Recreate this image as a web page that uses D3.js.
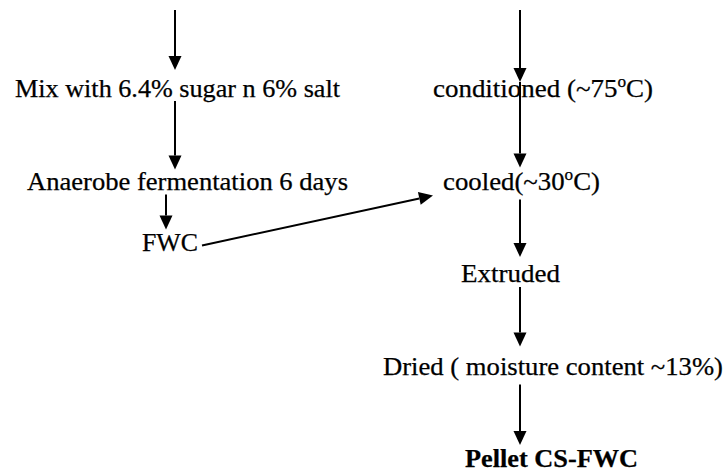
<!DOCTYPE html>
<html><head><meta charset="utf-8">
<script src="https://cdn.jsdelivr.net/npm/d3@7"></script>
<style>body{margin:0;background:#fff}svg{display:block}</style>
</head><body><svg id="c" width="725" height="472"></svg>
<script>
// ---- data: flow steps ----
const steps = [
  {t:"Mix with 6.4% sugar n 6% salt"},
  {t:"Anaerobe fermentation 6 days"},
  {t:"FWC"},
  {t:"conditioned (~75", sup:"o", after:"C)"},
  {t:"cooled(~30", sup:"o", after:"C)"},
  {t:"Extruded"},
  {t:"Dried ( moisture content ~13%)"},
  {t:"Pellet CS-FWC", bold:true}
];
const stepRow = [0, 1, 1.67, 0, 1, 2, 3, 4];
const links = [[null,0],[0,1],[1,2],[null,3],[3,4],[4,5],[5,6],[6,7],[2,4]];

// ---- layout (positions/sizes kept apart from data) ----
const textLeft  = [15, 27, 142, 433, 443, 461, 383, 465];
const textWidth = [325, 321, 56, 220, 157, 99, 340, 173];
const linkX   = [175, 175, 166, 520, 520, 520, 520, 520];
const linkY0  = [null, 4, 5, null, -15, 10, 5, 10];
const linkY1  = [-27, -20, -22, -15, -22, -25, -28, -22];
const topY = 10;

const svg = d3.select("#c");
const y = d3.scaleLinear().domain([0,4]).range([97, 467]);
const font = "'Liberation Serif','Times New Roman',Times,serif";

// text
const tx = svg.selectAll("text.step").data(steps).join("text")
  .attr("class","step")
  .attr("x",(d,i)=>textLeft[i])
  .attr("y",(d,i)=>y(stepRow[i]))
  .attr("font-family",font)
  .attr("font-size",25)
  .attr("font-weight",d=>d.bold?"bold":"normal")
  .attr("fill","#000")
  .attr("stroke","#000")
  .attr("stroke-width",0.25)
  .attr("textLength",(d,i)=>textWidth[i])
  .attr("lengthAdjust","spacingAndGlyphs");
tx.append("tspan").text(d=>d.t);
tx.filter(d=>d.sup).append("tspan").attr("font-size",16).attr("dy",-10).text(d=>d.sup);
tx.filter(d=>d.sup).append("tspan").attr("dy",10).text(d=>d.after);

// arrows
function arrow(x0,y0,x1,y1){
  const ang = Math.atan2(y1-y0,x1-x0);
  const L = 14, W = 6.5;
  const bx = x1 - L*Math.cos(ang), by = y1 - L*Math.sin(ang);
  svg.append("line").attr("x1",x0).attr("y1",y0).attr("x2",bx).attr("y2",by)
    .attr("stroke","#000").attr("stroke-width",2);
  const px = -Math.sin(ang)*W, py = Math.cos(ang)*W;
  svg.append("path").attr("d",`M${x1},${y1}L${bx+px},${by+py}L${bx-px},${by-py}Z`).attr("fill","#000");
}
links.forEach(([s,t],i)=>{
  if (i < 8) {
    const y0v = s===null ? topY : y(stepRow[s]) + linkY0[i];
    const y1v = y(stepRow[t]) + linkY1[i];
    arrow(linkX[i], y0v, linkX[i], y1v);
  } else {
    arrow(textLeft[s]+textWidth[s]+4, y(stepRow[s])-6, textLeft[t]-10, y(stepRow[t])+6);
  }
});
</script></body></html>
